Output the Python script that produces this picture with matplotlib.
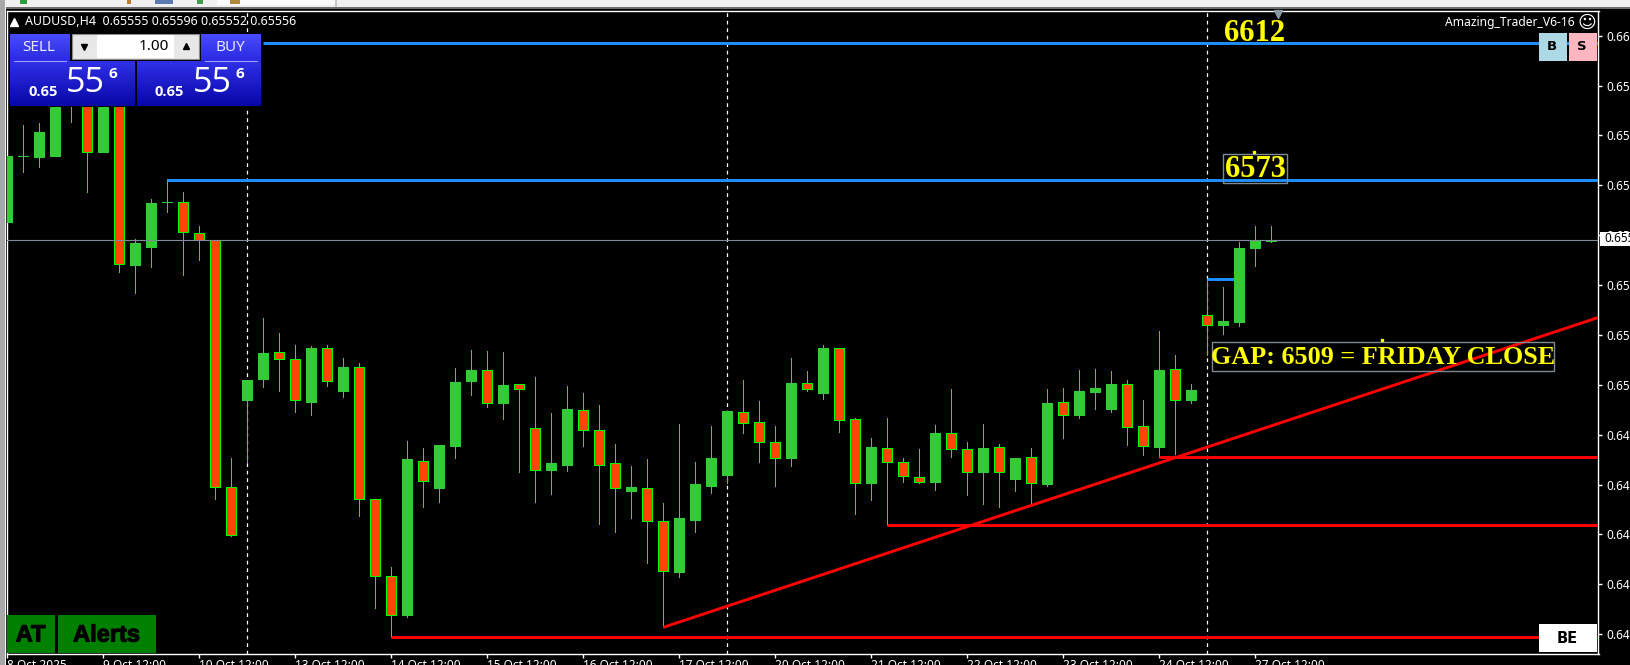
import numpy as np
import matplotlib
matplotlib.use("Agg")
import matplotlib.pyplot as plt
import matplotlib.patheffects as pe
from matplotlib.patches import Rectangle

# AUDUSD H4 candles
opens = [.65609, .65797, .65795, .65798, .65958, .66015, .65809, .66001, .65486, .65537,
         .65666, .65667, .65576, .65556, .64848, .65099, .65159, .65235, .65216, .65093,
         .65246, .65125, .65192, .64814, .64593, .64483, .64925, .64847, .64967, .65153,
         .65183, .65090, .65143, .65017, .64897, .64912, .65071, .65011, .64917, .64837,
         .64845, .64753, .64606, .64755, .64852, .64883, .65063, .65034, .64977, .64932,
         .65146, .65119, .65246, .65043, .64861, .64960, .64922, .64877, .64864, .65005,
         .64957, .64893, .64963, .64873, .64934, .64857, .65094, .65056, .65122, .65072,
         .65143, .65023, .64964, .65186, .65099, .65341, .65314, .65322, .65534, .65555]
highs = [.65809, .65886, .65891, .65972, .66072, .66029, .66020, .66015, .65561, .65673,
         .65731, .65693, .65597, .65556, .64931, .65155, .65332, .65289, .65256, .65253,
         .65256, .65218, .65203, .64814, .64620, .64981, .64960, .64969, .65189, .65241,
         .65238, .65236, .65143, .65163, .65060, .65138, .65117, .65084, .64972, .64909,
         .64928, .64802, .65031, .64920, .65024, .65067, .65157, .65095, .65024, .65218,
         .65181, .65256, .65247, .65048, .64989, .65046, .64932, .64957, .65026, .65129,
         .64977, .65031, .64972, .64931, .64960, .65129, .65132, .65184, .65187, .65181,
         .65155, .65098, .65296, .65227, .65144, .65444, .65421, .65550, .65597, .65596]
lows = [.65595, .65752, .65767, .65798, .65895, .65695, .65809, .65466, .65404, .65480,
        .65638, .65456, .65499, .64814, .64709, .64920, .65136, .65125, .65065, .65055,
        .65139, .65107, .64767, .64503, .64418, .64477, .64792, .64807, .64933, .65112,
        .65079, .65044, .64893, .64807, .64829, .64895, .64966, .64744, .64721, .64761,
        .64632, .64448, .64592, .64721, .64832, .64861, .65004, .64921, .64852, .64909,
        .65125, .65101, .65007, .64771, .64811, .64739, .64863, .64861, .64840, .64935,
        .64826, .64801, .64792, .64837, .64802, .64852, .64990, .65047, .65072, .65065,
        .64969, .64940, .64934, .64943, .65090, .65227, .65287, .65310, .65483, .65552]
closes = [.65797, .65798, .65865, .65958, .66029, .65809, .66015, .65487, .65547, .65664,
          .65667, .65579, .65556, .64850, .64712, .65155, .65232, .65216, .65097, .65246,
          .65154, .65192, .64814, .64593, .64481, .64928, .64867, .64969, .65149, .65184,
          .65091, .65141, .65129, .64899, .64917, .65072, .65013, .64913, .64847, .64849,
          .64752, .64607, .64759, .64857, .64932, .65067, .65033, .64979, .64933, .65147,
          .65130, .65247, .65042, .64861, .64963, .64921, .64881, .64864, .65005, .64957,
          .64893, .64960, .64893, .64931, .64861, .65091, .65056, .65123, .65132, .65144,
          .65022, .64967, .65183, .65099, .65127, .65314, .65324, .65533, .65558, .65556]

x_ticks = [0, 6, 12, 18, 24, 30, 36, 42, 48, 54, 60, 66, 72, 78]
x_labels = ["8 Oct 2025", "9 Oct 12:00", "10 Oct 12:00", "13 Oct 12:00", "14 Oct 12:00",
            "15 Oct 12:00", "16 Oct 12:00", "17 Oct 12:00", "20 Oct 12:00", "21 Oct 12:00",
            "22 Oct 12:00", "23 Oct 12:00", "24 Oct 12:00", "27 Oct 12:00"]
y_ticks = [.66142, .65999, .65857, .65714, .65571, .65428, .65285,
           .65142, .64999, .64856, .64713, .64570, .64427]
period_seps = [15, 45, 75]

blue_levels = [(16, .66120), (10, .65730)]
small_blue = (75, 77, .65444)
red_levels = [(72, .64936), (55, .64739), (24, .64418)]
trend_x = [41, 99.45]
trend_y = [.64447, .65335]
last_price = .65556

BG = "black"
BULL = "#32CD32"
BEAR = "#FF4500"
WICK = "#00FF00"
FONT = "Noto Sans"
W, H = 1631, 665

fig = plt.figure(figsize=(W / 100, H / 100), dpi=100, facecolor=BG)
ax = fig.add_axes([7 / W, 1 - 653.5 / H, 1591.5 / W, 642.5 / H], facecolor=BG)
ax.set_xlim(-0.02, 99.45)
ax.set_ylim(.64372, .66213)

idx = np.arange(len(opens))
o, c = np.array(opens), np.array(closes)
up = c >= o
ax.vlines(idx, lows, highs, color=WICK, lw=0.6, antialiased=False, zorder=2)
ax.bar(idx[up], (c - o)[up], bottom=o[up], width=0.64, color=BULL, edgecolor=BULL,
       lw=0.5, antialiased=False, zorder=3)
ax.bar(idx[~up], (c - o)[~up], bottom=o[~up], width=0.64, color=BEAR, edgecolor=WICK,
       lw=0.5, antialiased=False, zorder=3)

for s in period_seps:
    ax.axvline(s, color="white", lw=0.9, ls=(0, (3, 3)), zorder=1)
ax.axhline(last_price, color="#7f8a94", lw=0.8, zorder=4)

for start, lvl in blue_levels:
    ax.plot([start, 99.45], [lvl, lvl], color="#1E90FF", lw=2.1, zorder=5, solid_capstyle="butt")
# this one sits behind the candle it runs into
ax.plot(small_blue[:2], [small_blue[2]] * 2, color="#1E90FF", lw=2.1, zorder=2.5, solid_capstyle="butt")
for start, lvl in red_levels:
    ax.plot([start, 99.45], [lvl, lvl], color="red", lw=2.1, zorder=5, solid_capstyle="butt")
ax.plot(trend_x, trend_y, color="red", lw=2.1, zorder=5, solid_capstyle="butt")

for side in ax.spines.values():
    side.set_color("white")
    side.set_linewidth(1)
ax.yaxis.tick_right()
ax.set_yticks(y_ticks, [f"{v:.5f}" for v in y_ticks], fontname=FONT)
ax.set_xticks(x_ticks, x_labels, fontname=FONT, ha="left")
ax.tick_params(axis="y", colors="white", length=3, width=1, labelsize=8.5, pad=3)
ax.tick_params(axis="x", colors="white", length=3, width=1, labelsize=8.5, pad=1)

# screen furniture, in pixel coordinates
ui = fig.add_axes([0, 0, 1, 1], facecolor="none")
ui.set_xlim(0, W)
ui.set_ylim(H, 0)
ui.axis("off")


def box(x0, y0, x1, y1, color, edge="none", lw=0, z=10):
    ui.add_patch(Rectangle((x0, y0), x1 - x0, y1 - y0, facecolor=color, edgecolor=edge, lw=lw, zorder=z))


def label(x, y, s, color="white", size=9, weight="normal", ha="center", family=FONT, z=12):
    return ui.text(x, y, s, color=color, fontsize=size, fontweight=weight, ha=ha, va="center",
                   family=family, zorder=z)


def grad(x0, y0, x1, y1, top, bottom):
    cm = matplotlib.colors.LinearSegmentedColormap.from_list("g", [top, bottom])
    ui.imshow(np.linspace(0, 1, 64).reshape(-1, 1), cmap=cm, extent=(x0, x1, y1, y0),
              aspect="auto", zorder=10)


# window chrome
box(0, 0, W, 7, "#f0f0f0")
box(0, 7, W, 8.5, "#6e6e6e")
box(0, 0, 5, H, "#a8a8a8")
box(5, 0, 6.5, H, "#f4f4f4")
box(217, 0, 335, 5, "#fafafa")
box(335, 0, 337, 7, "#c8c8c8")
for x0, x1, col in [(20, 27, "#2e9e3a"), (127, 131, "#c07a30"), (155, 173, "#5b7bb0"),
                    (197, 203, "#3f9e4a"), (230, 240, "#b08a3a")]:
    box(x0, 0, x1, 4, col)

# header
ui.plot([14], [21.5], marker="^", ms=6, color="white", zorder=12)
label(25, 21.7, "AUDUSD,H4  0.65555 0.65596 0.65552 0.65556", size=8.95, ha="left")

# trade panel
box(9, 33.5, 262, 107, "black", z=9)
grad(10, 34.5, 69.5, 61, "#4a4aff", "#2a2ae0")
grad(201.5, 34.5, 261, 61, "#4a4aff", "#2a2ae0")
grad(10, 61, 135, 106, "#3030e8", "#0707a8")
grad(137, 61, 261, 106, "#3030e8", "#0707a8")
ui.plot([14, 66], [61, 61], color="#9a9aff", lw=0.8, zorder=11)
ui.plot([205, 257], [61, 61], color="#9a9aff", lw=0.8, zorder=11)
box(72, 34, 199, 59, "#e8e8e8", edge="#8a8a8a", lw=0.8)
box(97, 35, 174, 58, "white")
ui.plot([84], [47], marker="v", ms=5, color="black", zorder=12)
ui.plot([186.5], [46], marker="^", ms=5, color="black", zorder=12)
label(39, 47.5, "SELL", color="#e8e8ff", size=11)
label(230.5, 47.5, "BUY", color="#e8e8ff", size=11)
label(169.5, 46.5, "1.00", color="black", size=11, ha="right")
for x_small, x_big, x_top in [(29, 66, 112.7), (155, 193, 239.5)]:
    label(x_small, 92, "0.65", size=10.5, weight="bold", ha="left", family="Open Sans")
    label(x_big, 83, "55", size=24.5, ha="left", family="Open Sans")
    label(x_top, 73.5, "6", size=11, weight="bold", family="Open Sans")

# right hand buttons and indicator name
label(1575, 22.7, "Amazing_Trader_V6-16", size=8.7, ha="right")
label(1587, 22.5, "\u263a", size=13, family="DejaVu Sans")
box(1539, 32.7, 1567, 61, "#ADD8E6")
box(1569, 32.7, 1597, 61, "#FFB6C1")
label(1552, 47, "B", color="black", size=9.5, weight="bold", family="DejaVu Sans")
label(1582, 47, "S", color="black", size=9.5, weight="bold", family="DejaVu Sans")
box(1539, 624, 1597, 652, "white")
label(1567, 638.5, "BE", color="black", size=10.5, weight="bold", family="DejaVu Sans")

# AT / Alerts buttons
box(7, 615, 55, 652.5, "#008000")
box(58, 615, 156, 652.5, "#008000")
for xc, s in [(30.5, "AT"), (106.5, "Alerts")]:
    t = label(xc, 635, s, color="black", size=17, weight="bold", family="Liberation Sans")
    t.set_path_effects([pe.withStroke(linewidth=0.8, foreground="black")])

# text notes on the chart
SERIF = "Liberation Serif"
label(1255, 33.5, "6612", color="yellow", size=22, weight="bold", family=SERIF)
ui.plot([1278], [14], marker="v", ms=6, color="#8a97a6", zorder=12)
box(1223.5, 153.5, 1287.5, 183, "none", edge="#7f8a94", lw=1, z=11)
label(1255, 169.5, "6573", color="yellow", size=22, weight="bold", family=SERIF)
ui.plot([1254], [151.5], marker="s", ms=1.5, color="yellow", zorder=12)
box(1212.5, 341.5, 1554.5, 371, "none", edge="#7f8a94", lw=1, z=11)
label(1383.5, 358, "GAP: 6509 = FRIDAY CLOSE", color="yellow", size=18.8, weight="bold", family=SERIF)
ui.plot([1382], [340], marker="s", ms=1.5, color="yellow", zorder=12)

# last price tag
box(1600, 232, W, 246, "white")
label(1604, 239, f"{last_price:.5f}", color="black", size=8.5, ha="left")

fig.savefig("out.png", dpi=100, facecolor=BG)
